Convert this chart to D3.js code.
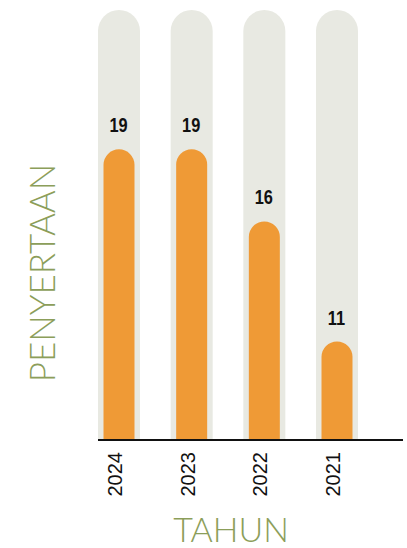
<!DOCTYPE html>
<html>
<head>
<meta charset="utf-8">
<script src="https://cdn.jsdelivr.net/npm/d3@7"></script>
<style>
	body { margin: 0; background: #fff; }
	svg { display: block; }
</style>
</head>
<body>
<script>
const years = ['2024', '2023', '2022', '2021']
const values = [19, 19, 16, 11]
const trackValue = 24.8

const width = 407
const height = 548

const svg = d3.select('body').append('svg')
	.attr('width', width)
	.attr('height', height)

const x = d3.scaleBand()
	.domain(years)
	.range([98, 358])
	.paddingInner(0.422)
	.paddingOuter(0)

const y = d3.scaleLinear()
	.domain([6.9, 24.8])
	.range([440, 10])

const data = years.map((year, i) => ({year, value: values[i]}))

// rounded-top bar path
const roundTop = (x0, w, top, bottom) => {
	const r = w / 2
	return `M${x0},${bottom}V${top + r}A${r},${r} 0 0 1 ${x0 + w},${top + r}V${bottom}Z`
}

const trackW = x.bandwidth()
const barW = 31

svg.selectAll('.track').data(data)
	.enter()
		.append('path')
			.attr('class', 'track')
			.attr('fill', '#e8e9e2')
			.attr('d', d => roundTop(x(d.year), trackW, y(trackValue), y.range()[0]))

svg.selectAll('.bar').data(data)
	.enter()
		.append('path')
			.attr('class', 'bar')
			.attr('fill', '#ef9a36')
			.attr('d', d => roundTop(x(d.year) + (trackW - barW) / 2, barW, y(d.value), y.range()[0]))

// condensed look: squeeze bold text horizontally
svg.selectAll('.value').data(data)
	.enter()
		.append('text')
			.attr('class', 'value')
			.attr('transform', d => `translate(${x(d.year) + trackW / 2 - 0.5},${y(d.value) - 17}) scale(0.84,1)`)
			.attr('text-anchor', 'middle')
			.style('font-family', '"Liberation Sans", Arial, sans-serif')
			.style('font-weight', '700')
			.style('font-size', '19.5px')
			.style('fill', '#111')
			.text(d => d.value)

// x axis
const xAxis = d3.axisBottom(x).tickSize(0).tickPadding(0)

const gx = svg.append('g')
	.attr('class', 'x-axis')
	.attr('transform', `translate(0,${y.range()[0]})`)
	.call(xAxis)

gx.select('.domain').remove()
gx.append('line')
	.attr('x1', 98)
	.attr('x2', 403)
	.attr('y1', 0)
	.attr('y2', 0)
	.attr('stroke', '#111')
	.attr('stroke-width', 2)

gx.selectAll('.tick text')
	.attr('transform', 'rotate(-90)')
	.attr('text-anchor', 'end')
	.attr('x', -12)
	.attr('y', -4)
	.attr('dy', '0.35em')
	.style('font-family', '"Liberation Sans", Arial, sans-serif')
	.style('font-size', '20px')
	.style('fill', '#111')

svg.append('text')
	.attr('x', 231)
	.attr('y', 542)
	.attr('text-anchor', 'middle')
	.style('font-family', 'Lato, sans-serif')
	.style('font-weight', '300')
	.style('font-size', '34px')
	.style('fill', '#8c9e5a')
	.text('TAHUN')

svg.append('text')
	.attr('transform', 'translate(55,273) rotate(-90)')
	.attr('text-anchor', 'middle')
	.style('font-family', 'Lato, sans-serif')
	.style('font-weight', '300')
	.style('font-size', '35px')
	.style('fill', '#8c9e5a')
	.text('PENYERTAAN')
</script>
</body>
</html>
